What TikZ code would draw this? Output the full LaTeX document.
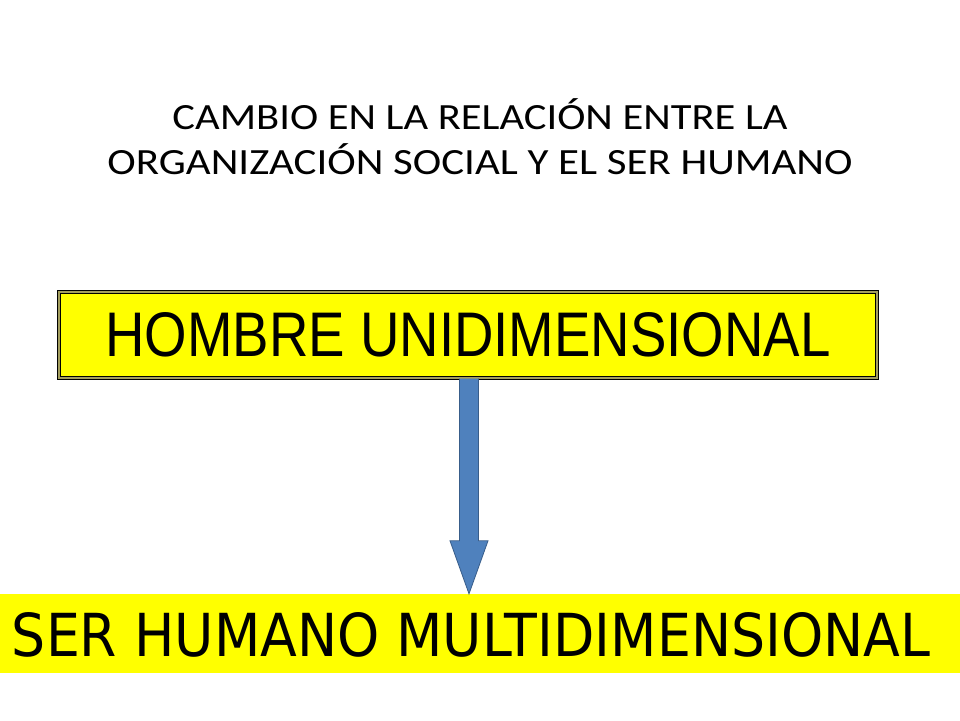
\documentclass[tikz,border=0pt]{standalone}
\usepackage{fontspec}
\usepackage{graphicx}
\setmainfont{Carlito}
\newfontfamily\boxfont{Liberation Sans}
\newfontfamily\widefont{DejaVu Sans}
\usetikzlibrary{calc}
\definecolor{boxyellow}{HTML}{FFFF00}
\definecolor{rimolive}{HTML}{A39E5E}
\definecolor{arrowfill}{HTML}{4F81BD}
\definecolor{arrowline}{HTML}{385D8A}
\tikzset{
  titletext/.style={anchor=base, inner sep=0pt, font=\fontsize{37}{44}\selectfont},
  upperbox/.style={draw=black, line width=1pt, double=rimolive, double distance=2pt,
    fill=boxyellow, minimum width=818pt, minimum height=86pt, inner sep=0pt},
  lowerbox/.style={fill=boxyellow, minimum width=960pt, minimum height=79pt, inner sep=0pt},
  bigarrow/.style={fill=arrowfill, draw=arrowline, line width=0.8pt, line join=miter}
}
\begin{document}
\begin{tikzpicture}[x=1pt, y=-1pt]
  \fill[white] (0,0) rectangle (960,720);
  \useasboundingbox (0,0) rectangle (960,720);
  \node[titletext] (title1) at (480,129) {\scalebox{1.15}[1]{CAMBIO EN LA RELACIÓN ENTRE LA}};
  \node[titletext] (title2) at (480,174) {\scalebox{1.16}[1]{ORGANIZACIÓN SOCIAL Y EL SER HUMANO}};
  \node[lowerbox] (lower) at (480,633.5) {};
  \node[inner sep=0pt] (lowertext) at (471,635)
    {\resizebox{918pt}{44pt}{\widefont SER HUMANO MULTIDIMENSIONAL}};
  \coordinate (tip) at ($(lower.north)+(-11,0)$);
  \node[upperbox] (upper) at (468,335)
    {\resizebox{725pt}{44pt}{\boxfont HOMBRE UNIDIMENSIONAL}};
  \draw[bigarrow] ($(upper.south -| tip)+(-9.5,0)$)
    -- ($(tip)+(-9.5,-53)$) -- ($(tip)+(-19,-53)$) -- (tip)
    -- ($(tip)+(19,-53)$) -- ($(tip)+(9.5,-53)$)
    -- ($(upper.south -| tip)+(9.5,0)$);
\end{tikzpicture}
\end{document}
